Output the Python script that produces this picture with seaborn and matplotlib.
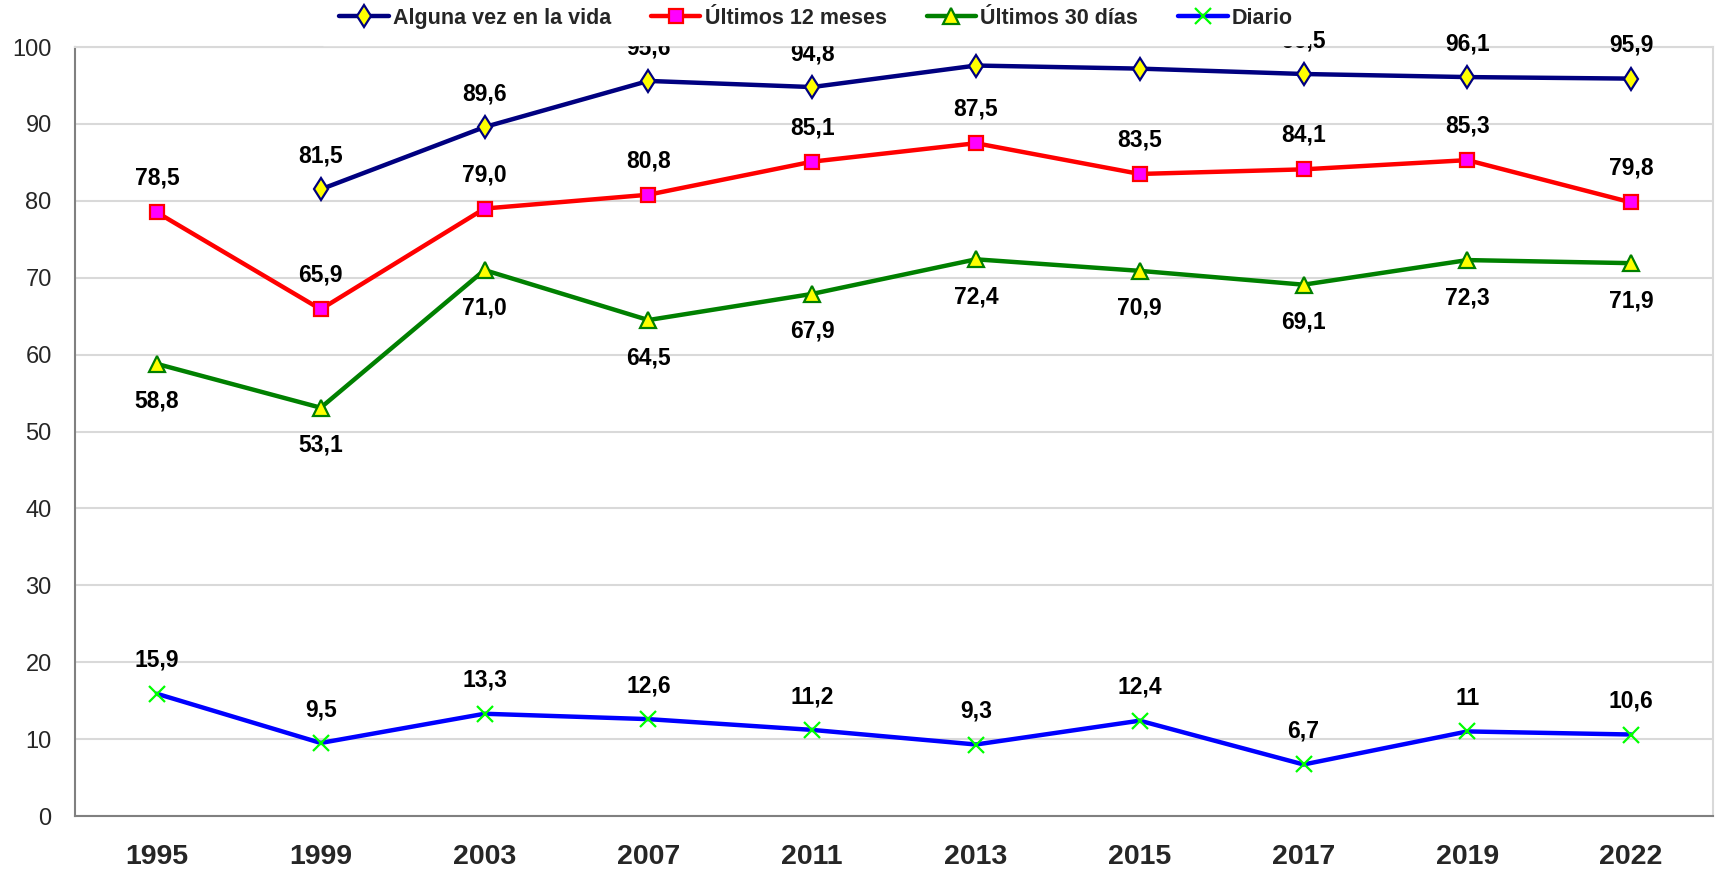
import numpy as np
import matplotlib
matplotlib.use("Agg")
from matplotlib import pyplot as plt
import seaborn as sns

# Data
years = ["1995", "1999", "2003", "2007", "2011", "2013", "2015", "2017", "2019", "2022"]
alguna_vez = [np.nan, 81.5, 89.6, 95.6, 94.8, 97.6, 97.2, 96.5, 96.1, 95.9]
ultimos_12 = [78.5, 65.9, 79.0, 80.8, 85.1, 87.5, 83.5, 84.1, 85.3, 79.8]
ultimos_30 = [58.8, 53.1, 71.0, 64.5, 67.9, 72.4, 70.9, 69.1, 72.3, 71.9]
diario = [15.9, 9.5, 13.3, 12.6, 11.2, 9.3, 12.4, 6.7, 11, 10.6]

sns.set_theme(style="white")
plt.rcParams['font.family'] = ['Liberation Sans', 'DejaVu Sans']

fig, ax = plt.subplots(figsize=(17.16, 8.72), dpi=100)
fig.subplots_adjust(left=0.0437, right=0.9983, top=0.946, bottom=0.0642)

x = np.arange(len(years))

# (values, label, line color, marker, marker size, face, edge, label offset in pt)
series = [
    (alguna_vez, "Alguna vez en la vida", "#000080", "d", 11.5, "#FFFF00", "#000080", 24),
    (ultimos_12, "Últimos 12 meses", "#FF0000", "s", 10.5, "#FF00FF", "#FF0000", 24.5),
    (ultimos_30, "Últimos 30 días", "#008000", "^", 11.5, "#FFFF00", "#008000", -27),
    (diario, "Diario", "#0000FF", "x", 11, "#00FF00", "#00FF00", 24),
]

for vals, name, col, mk, ms, face, edge, off in series:
    sns.lineplot(x=x, y=vals, ax=ax, color=col, linewidth=3.2, marker=mk,
                 markersize=ms, markerfacecolor=face, markeredgecolor=edge,
                 markeredgewidth=1.6, label=name, zorder=3)
    for xi, v in zip(x, vals):
        if v != v:
            continue
        txt = str(v).replace(".", ",")
        ax.annotate(txt, (xi, v), xytext=(0, off), textcoords="offset points",
                    ha="center", va="center", fontsize=16.5, fontweight="bold",
                    color="black", clip_on=False, annotation_clip=False, zorder=4)

ax.set_xlim(-0.5, len(years) - 0.5)
ax.set_ylim(0, 100)
ax.set_yticks(np.arange(0, 101, 10))
ax.set_xticks(x)
ax.set_xticklabels(years, fontsize=20.5, fontweight="bold")
ax.set_xticks(np.arange(-0.5, len(years), 1), minor=True)
ax.tick_params(axis="x", which="major", length=0, pad=20)
ax.tick_params(axis="x", which="minor", length=7.2, width=1, color="#808080", direction="out")
ax.tick_params(axis="y", which="major", length=5.8, width=1, color="#808080",
               direction="out", pad=11, labelsize=17)
ax.set_xlabel("")
ax.set_ylabel("")

ax.yaxis.grid(True, color="#D9D9D9", linewidth=1.5)
ax.set_axisbelow(True)
for s in ["left", "bottom"]:
    ax.spines[s].set_color("#808080")
    ax.spines[s].set_linewidth(1.5)
for s in ["top", "right"]:
    ax.spines[s].set_color("#D9D9D9")
    ax.spines[s].set_linewidth(1.5)

# opaque legend box hides the labels that run into it, as in the original
leg = ax.legend(loc="center", bbox_to_anchor=(0.4755, 0.979), bbox_transform=fig.transFigure,
                ncol=4, frameon=True, fancybox=False, framealpha=1, facecolor="white",
                edgecolor="white", handlelength=2.3, handletextpad=0.2, columnspacing=1.85,
                prop={"weight": "bold", "size": 15.5}, borderpad=0.75)
leg.set_zorder(10)

fig.savefig("out.png", dpi=100)
